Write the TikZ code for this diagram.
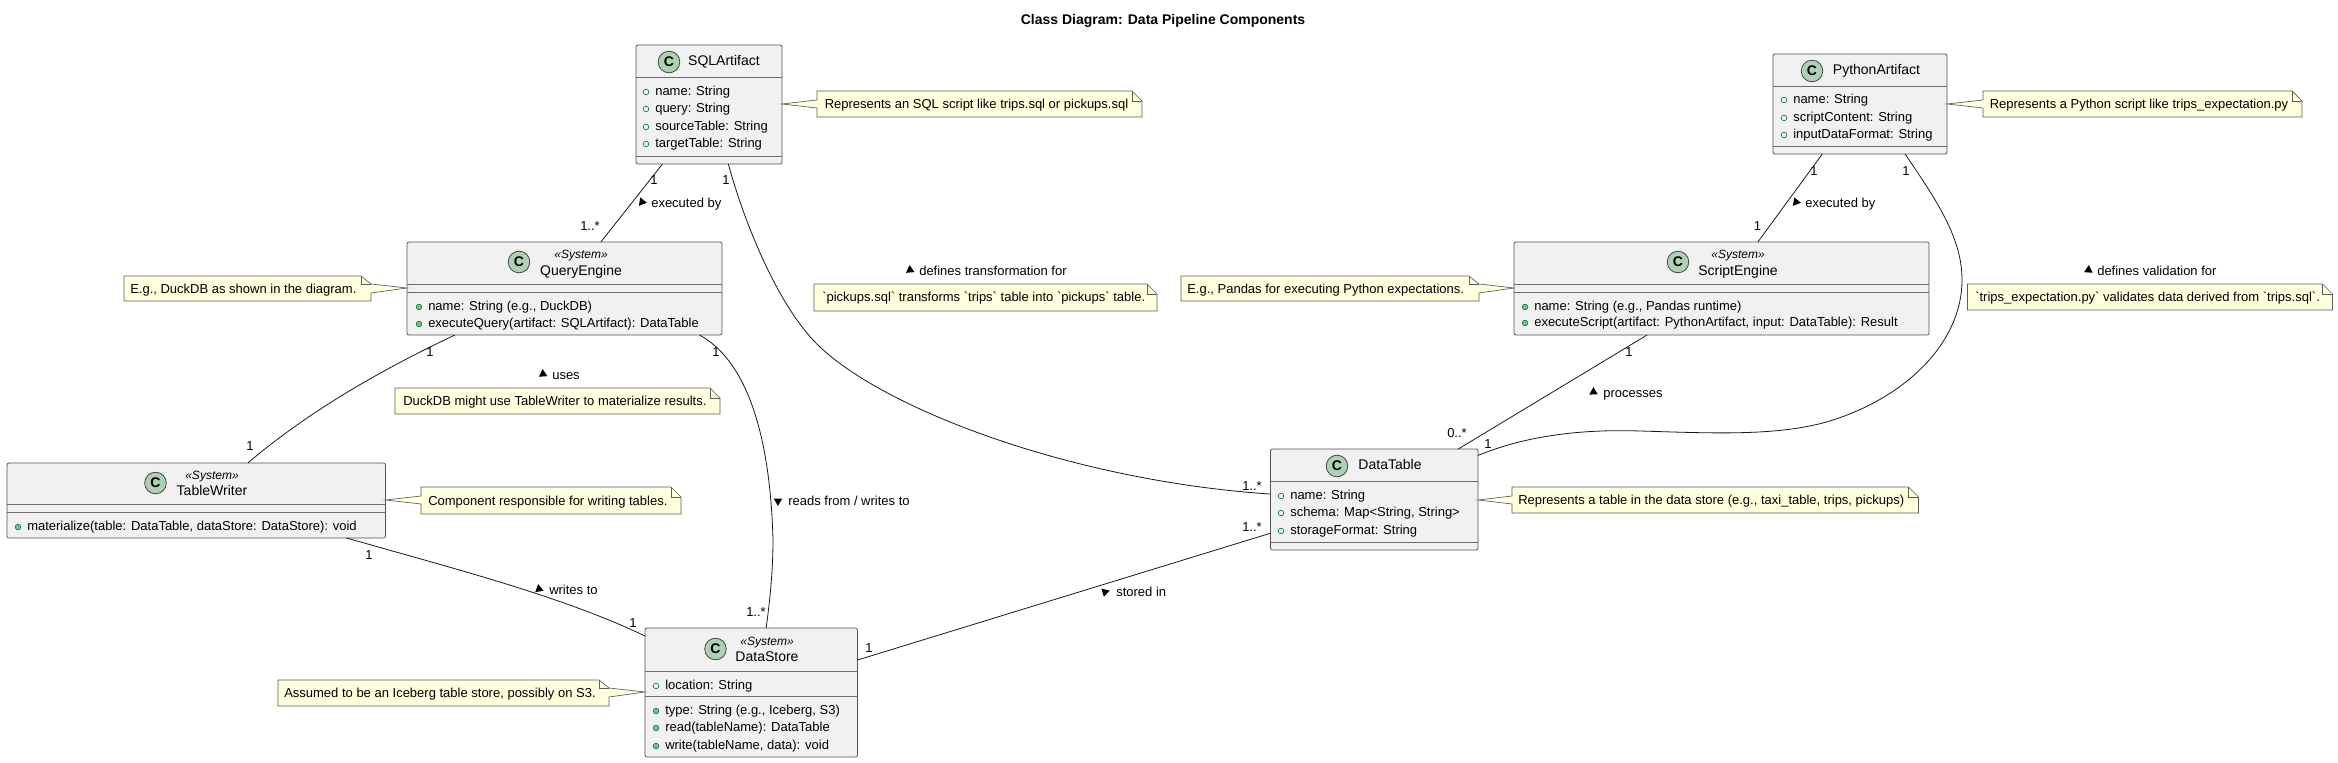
\documentclass[tikz,border=0pt]{standalone}
\usepackage{fontspec}
\setmainfont[Ligatures=TeXOff]{Liberation Sans}
\usetikzlibrary{shapes.geometric, fit}
\definecolor{umlline}{RGB}{24,24,24}
\definecolor{umlgray}{RGB}{241,241,241}
\definecolor{umlspot}{RGB}{173,209,178}
\definecolor{umlnote}{RGB}{254,255,221}
\definecolor{umldot}{RGB}{3,128,72}
\definecolor{umldotfill}{RGB}{132,190,132}
\tikzset{
  classbox/.style={draw=umlline!75, fill=umlgray, rounded corners=1.5pt, inner sep=0pt, outer sep=0pt, line width=0.55pt},
  classbar/.style={draw=umlline!65, line width=0.55pt},
  spot/.style={circle, draw=umlline!85, fill=umlspot, line width=0.55pt, inner sep=0pt, minimum size=16.2pt, font=\fontsize{10.5}{12}\selectfont\bfseries},
  classname/.style={anchor=mid, inner sep=0pt, font=\fontsize{10.5}{12}\selectfont},
  stereo/.style={anchor=mid, inner sep=0pt, font=\fontsize{9}{10}\selectfont\itshape},
  rowtext/.style={anchor=mid west, inner sep=0pt, font=\fontsize{9.75}{12}\selectfont},
  fielddot/.style={circle, draw=umldot, line width=0.5pt, inner sep=0pt, minimum size=4.2pt},
  methoddot/.style={circle, draw=umldot, fill=umldotfill, line width=0.5pt, inner sep=0pt, minimum size=4.2pt},
  notepath/.style={draw=umlline!70, fill=umlnote, line width=0.5pt},
  notefold/.style={draw=umlline!70, line width=0.5pt},
  notetext/.style={anchor=mid west, inner sep=0pt, font=\fontsize{9.75}{12}\selectfont},
  assoc/.style={draw=umlline, line width=0.6pt},
  multi/.style={anchor=mid, inner sep=0pt, font=\fontsize{9.75}{12}\selectfont},
  linktext/.style={anchor=mid west, inner sep=0pt, font=\fontsize{9.75}{12}\selectfont},
  linkmark/.style={regular polygon, regular polygon sides=3, fill=black, inner sep=0pt, minimum size=7.4pt}
}
% rows of a class: name, text x, y, text
\newcommand{\fieldrow}[4]{%
  \node[fielddot] (#1dot) at (#2-9,#3) {};
  \node[rowtext] (#1) at (#2,#3) {#4};}
\newcommand{\methodrow}[4]{%
  \node[methoddot] (#1dot) at (#2-9,#3) {};
  \node[rowtext] (#1) at (#2,#3) {#4};}
% notes: x1, y1, x2, y2 and the tip x
\newcommand{\noteright}[5]{%
  \path[notepath] (#1,#2) -- (#3-10,#2) -- (#3,#2+10) -- (#3,#4) -- (#1,#4) -- (#1,#2+17) -- (#5,#2+13) -- (#1,#2+9) -- cycle;
  \path[notefold] (#3-10,#2) -- (#3-10,#2+10) -- (#3,#2+10);}
\newcommand{\noteleft}[5]{%
  \path[notepath] (#1,#2) -- (#3-10,#2) -- (#3,#2+8) -- (#5,#2+12) -- (#3,#2+17) -- (#3,#4) -- (#1,#4) -- cycle;
  \path[notefold] (#3-10,#2) -- (#3-10,#2+8) -- (#3,#2+8);}
\newcommand{\noteplain}[4]{%
  \path[notepath] (#1,#2) -- (#3-10,#2) -- (#3,#2+10) -- (#3,#4) -- (#1,#4) -- cycle;
  \path[notefold] (#3-10,#2) -- (#3-10,#2+10) -- (#3,#2+10);}
\begin{document}
\begin{tikzpicture}[x=0.75pt, y=-0.75pt]
  \useasboundingbox (0,0) rectangle (2338,763);
  % Title
  \node[anchor=mid, inner sep=0pt, font=\fontsize{10.5}{12}\selectfont\bfseries] (title) at (1163,20.5) {Class Diagram: Data Pipeline Components};

  % SQLArtifact
  \node[classbox, fit={(636,45) (782,164)}] (sqlartifact) {};
  \draw[classbar] (sqlartifact.west |- 0,77) -- (sqlartifact.east |- 0,77);
  \draw[classbar] (sqlartifact.west |- 0,156) -- (sqlartifact.east |- 0,156);
  \node[spot] (sqlspot) at (669,62) {C};
  \node[classname] (sqlname) at (724,62) {SQLArtifact};
  \fieldrow{sqlrowa}{655}{92}{name: String}
  \fieldrow{sqlrowb}{655}{109}{query: String}
  \fieldrow{sqlrowc}{655}{127}{sourceTable: String}
  \fieldrow{sqlrowd}{655}{144}{targetTable: String}

  % QueryEngine
  \node[classbox, fit={(407,242) (722,335)}] (queryengine) {};
  \draw[classbar] (queryengine.west |- 0,284) -- (queryengine.east |- 0,284);
  \draw[classbar] (queryengine.west |- 0,292) -- (queryengine.east |- 0,292);
  \node[spot] (queryspot) at (519,262) {C};
  \node[stereo] (querystereo) at (581,255) {«System»};
  \node[classname] (queryname) at (581,272) {QueryEngine};
  \methodrow{queryrowa}{428}{307}{name: String (e.g., DuckDB)}
  \methodrow{queryrowb}{428}{324}{executeQuery(artifact: SQLArtifact): DataTable}

  % TableWriter
  \node[classbox, fit={(7,463) (385.5,538)}] (tablewriter) {};
  \draw[classbar] (tablewriter.west |- 0,504) -- (tablewriter.east |- 0,504);
  \draw[classbar] (tablewriter.west |- 0,512) -- (tablewriter.east |- 0,512);
  \node[spot] (writerspot) at (155.5,483) {C};
  \node[stereo] (writerstereo) at (212,476) {«System»};
  \node[classname] (writername) at (212,492) {TableWriter};
  \methodrow{writerrowa}{27}{527}{materialize(table: DataTable, dataStore: DataStore): void}

  % DataStore
  \node[classbox, fit={(645,628) (857.5,757)}] (datastore) {};
  \draw[classbar] (datastore.west |- 0,671) -- (datastore.east |- 0,671);
  \draw[classbar] (datastore.west |- 0,696) -- (datastore.east |- 0,696);
  \node[spot] (storespot) at (715.5,649) {C};
  \node[stereo] (storestereo) at (767,642) {«System»};
  \node[classname] (storename) at (767,658) {DataStore};
  \fieldrow{storerowa}{665}{686}{location: String}
  \methodrow{storerowb}{665}{711}{type: String (e.g., Iceberg, S3)}
  \methodrow{storerowc}{665}{728}{read(tableName): DataTable}
  \methodrow{storerowd}{665}{746}{write(tableName, data): void}

  % DataTable
  \node[classbox, fit={(1270.5,449) (1478,550)}] (datatable) {};
  \draw[classbar] (datatable.west |- 0,481) -- (datatable.east |- 0,481);
  \draw[classbar] (datatable.west |- 0,542) -- (datatable.east |- 0,542);
  \node[spot] (tablespot) at (1337,466) {C};
  \node[classname] (tablename) at (1390,466) {DataTable};
  \fieldrow{tablerowa}{1290}{496}{name: String}
  \fieldrow{tablerowb}{1290}{513}{schema: Map<String, String>}
  \fieldrow{tablerowc}{1290}{531}{storageFormat: String}

  % ScriptEngine
  \node[classbox, fit={(1514,242) (1929,335)}] (scriptengine) {};
  \draw[classbar] (scriptengine.west |- 0,284) -- (scriptengine.east |- 0,284);
  \draw[classbar] (scriptengine.west |- 0,292) -- (scriptengine.east |- 0,292);
  \node[spot] (scriptspot) at (1678,262) {C};
  \node[stereo] (scriptstereo) at (1738,255) {«System»};
  \node[classname] (scriptname) at (1738,272) {ScriptEngine};
  \methodrow{scriptrowa}{1534}{307}{name: String (e.g., Pandas runtime)}
  \methodrow{scriptrowb}{1534}{323}{executeScript(artifact: PythonArtifact, input: DataTable): Result}

  % PythonArtifact
  \node[classbox, fit={(1773,54) (1947,154)}] (pythonartifact) {};
  \draw[classbar] (pythonartifact.west |- 0,86) -- (pythonartifact.east |- 0,86);
  \draw[classbar] (pythonartifact.west |- 0,146) -- (pythonartifact.east |- 0,146);
  \node[spot] (pythonspot) at (1812,71) {C};
  \node[classname] (pythonname) at (1876.5,71) {PythonArtifact};
  \fieldrow{pythonrowa}{1793}{100}{name: String}
  \fieldrow{pythonrowb}{1793}{118}{scriptContent: String}
  \fieldrow{pythonrowc}{1793}{135}{inputDataFormat: String}

  % Notes
  \noteright{817}{91}{1142}{117}{782}
  \node[notetext] (sqlnote) at (824.5,105) {Represents an SQL script like trips.sql or pickups.sql};
  \noteright{1983}{91}{2302}{117}{1947}
  \node[notetext] (pythonnote) at (1989.5,105) {Represents a Python script like trips\_expectation.py};
  \noteleft{124}{276}{371}{301}{407}
  \node[notetext] (querynote) at (130,289.5) {E.g., DuckDB as shown in the diagram.};
  \noteleft{1181}{276}{1479}{301}{1514}
  \node[notetext] (scriptnote) at (1187,289.5) {E.g., Pandas for executing Python expectations.};
  \noteright{421}{487}{681}{514}{385.5}
  \node[notetext] (writernote) at (428,501.5) {Component responsible for writing tables.};
  \noteleft{278}{680}{609}{706}{645}
  \node[notetext] (storenote) at (284,694) {Assumed to be an Iceberg table store, possibly on S3.};
  \noteright{1512}{487}{1918.5}{513}{1478}
  \node[notetext] (tablenote) at (1518,501) {Represents a table in the data store (e.g., taxi\_table, trips, pickups)};
  \noteplain{395}{388}{720}{414}
  \node[notetext] (usesnote) at (403,402) {DuckDB might use TableWriter to materialize results.};
  \noteplain{814}{284}{1157}{311}
  \node[notetext] (transformnote) at (822,298) {`pickups.sql` transforms `trips` table into `pickups` table.};
  \noteplain{1967.5}{284}{2332.5}{310}
  \node[notetext] (validatenote) at (1975,298) {`trips\_expectation.py` validates data derived from `trips.sql`.};

  % Straight links
  \draw[assoc] (sqlartifact.-128) -- (queryengine.52.6);
  \draw[assoc] (pythonartifact.-127.2) -- (scriptengine.52.6);
  \draw[assoc] (scriptengine.-148.9) -- (datatable.31.7);
  \draw[assoc] (datastore.17.5) -- (datatable.-162.1);
  % Curved links
  \draw[assoc] (sqlartifact.-72.7) .. controls (745,225) and (775,295) .. (807,333)
    .. controls (860,400) and (1060,480) .. (datatable.177);
  \draw[assoc] (queryengine.-19.1) .. controls (745,360) and (770,430) .. (773,540)
    .. controls (773,570) and (770,600) .. (datastore.77.1);
  \draw[assoc] (queryengine.-157.9) .. controls (385,368) and (310,410) .. (tablewriter.36.5);
  \draw[assoc] (tablewriter.-14.1) .. controls (440,565) and (560,595) .. (datastore.152.4);
  \draw[assoc] (pythonartifact.-48.7) .. controls (1940,205) and (1962,240) .. (1962,280)
    .. controls (1962,340) and (1910,395) .. (1833,420)
    .. controls (1780,437) and (1710,433) .. (1640,431)
    .. controls (1580,429) and (1525,436) .. (datatable.23.7);

  % Multiplicities
  \node[multi] (sqlqueryfrom) at (654,181) {1};
  \node[multi] (sqlqueryto) at (590,227) {1..*};
  \node[multi] (sqltablefrom) at (726,181) {1};
  \node[multi] (sqltableto) at (1252,487) {1..*};
  \node[multi] (querywriterfrom) at (430,353) {1};
  \node[multi] (querywriterto) at (250,447) {1};
  \node[multi] (querystorefrom) at (716,353) {1};
  \node[multi] (querystoreto) at (756,613) {1..*};
  \node[multi] (writerstorefrom) at (369,556) {1};
  \node[multi] (writerstoreto) at (633,624) {1};
  \node[multi] (storetablefrom) at (869,649) {1};
  \node[multi] (storetableto) at (1252,528) {1..*};
  \node[multi] (pythonscriptfrom) at (1814,172) {1};
  \node[multi] (pythonscriptto) at (1757.5,227) {1};
  \node[multi] (pythontablefrom) at (1906,172) {1};
  \node[multi] (pythontableto) at (1488,445) {1};
  \node[multi] (scripttablefrom) at (1629,353) {1};
  \node[multi] (scripttableto) at (1457,434) {0..*};

  % Link labels
  \node[linkmark, rotate=141] (execsqlmark) at (642,202) {};
  \node[linktext] (execsql) at (651,204) {executed by};
  \node[linkmark, rotate=5] (transformmark) at (910,270) {};
  \node[linktext] (transform) at (919,272) {defines transformation for};
  \node[linkmark, rotate=4] (usesmark) at (543,374) {};
  \node[linktext] (uses) at (552,376) {uses};
  \node[linkmark, rotate=180] (readsmark) at (778,501) {};
  \node[linktext] (reads) at (788,502) {reads from / writes to};
  \node[linkmark, rotate=10] (writesmark) at (539,589) {};
  \node[linktext] (writes) at (549,591) {writes to};
  \node[linkmark, rotate=47] (storedmark) at (1105,592) {};
  \node[linktext] (stored) at (1116,593) {stored in};
  \node[linkmark, rotate=141] (execpythonmark) at (1796,202) {};
  \node[linktext] (execpython) at (1805,204) {executed by};
  \node[linkmark, rotate=1] (processmark) at (1593.5,392) {};
  \node[linktext] (process) at (1603,394) {processes};
  \node[linkmark, rotate=-4] (validatemark) at (2088.5,270) {};
  \node[linktext] (validate) at (2097,272) {defines validation for};
\end{tikzpicture}
\end{document}
